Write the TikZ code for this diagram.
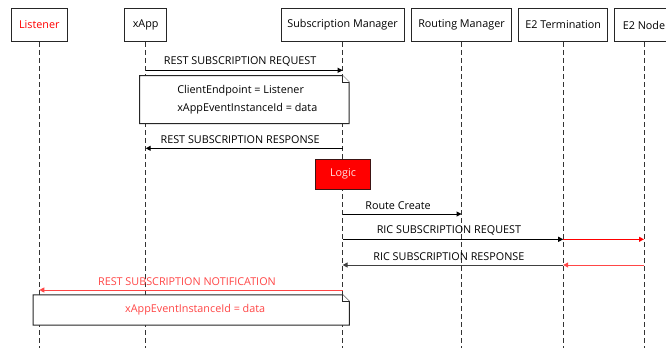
\documentclass[tikz,border=0pt]{standalone}
\usepackage{fontspec}
\setmainfont{Open Sans}
\usetikzlibrary{arrows.meta, positioning, calc}
\definecolor{alert}{RGB}{255, 0, 0}
\definecolor{alertline}{RGB}{255, 70, 70}
\definecolor{logicline}{RGB}{60, 20, 20}
\tikzset{
  actor/.style={draw=black!85, line width=1pt, fill=white, minimum height=33pt, inner sep=2pt, font=\fontsize{10.8}{13}\selectfont},
  lifeline/.style={draw=black!80, line width=1pt, dash pattern=on 5pt off 3pt},
  msg/.style={draw=black, line width=1pt, -{Triangle[length=5pt, width=5pt]}},
  redmsg/.style={msg, draw=alertline, -{Triangle[length=5pt, width=5pt, fill=alertline]}},
  msglabel/.style={font=\fontsize{10.8}{13}\selectfont, above=0.5pt, xshift=-4pt},
  note/.style={inner sep=0pt, font=\fontsize{10.8}{18}\selectfont, align=left},
  notebox/.style={draw=black!85, line width=1pt, fill=white}
}
\begin{document}
\begin{tikzpicture}[x=1pt, y=-1pt]
\useasboundingbox (0,0) rectangle (666,353);

% participants
\node[actor, minimum width=56pt, text=alert] (lst) at (39.3,25) {Listener};
\node[actor, minimum width=42pt] (xapp) at (145.7,25) {xApp};
\node[actor, minimum width=123pt] (subm) at (342.6,25) {Subscription Manager};
\node[actor, minimum width=100.7pt] (rtm) at (461.5,25) {Routing Manager};
\node[actor, minimum width=89.4pt] (e2t) at (563.2,25) {E2 Termination};
\node[actor, minimum width=60pt] (e2n) at (644,25) {E2 Node};

% lifelines
\foreach \p in {lst, xapp, subm, rtm, e2t, e2n} {
  \coordinate (\p-end) at (\p.center |- 0,348);
  \draw[lifeline] (\p.south) -- (\p-end);
}

% subscription request from the xApp
\coordinate (m1a) at (xapp.center |- 0,70.3);
\coordinate (m1b) at (subm.center |- 0,70.3);
\draw[msg] (m1a) -- node[msglabel] {REST SUBSCRIPTION REQUEST} (m1b);

\node[note, minimum width=209pt, minimum height=47.6pt] (n1) at (244.3,99.5) {};
\draw[notebox] (n1.north west) -- ([xshift=-6.5pt]n1.north east) -- ([yshift=-6.5pt]n1.north east)
  -- (n1.south east) -- (n1.south west) -- cycle;
\draw[notebox] ([xshift=-6.5pt]n1.north east) -- ([xshift=-6.5pt, yshift=-6.5pt]n1.north east)
  -- ([yshift=-6.5pt]n1.north east);
\node[note, xshift=3pt] (n1text) at (n1.center)
  {ClientEndpoint = Listener\\ xAppEventInstanceId = data};

\coordinate (m2a) at (subm.center |- 0,148.3);
\coordinate (m2b) at (xapp.center |- 0,148.3);
\draw[msg] (m2a) -- node[msglabel] {REST SUBSCRIPTION RESPONSE} (m2b);

% internal logic
\node[draw=logicline, line width=1pt, fill=alert, text=red!12, minimum width=54.6pt,
  minimum height=30pt, font=\fontsize{10.8}{13}\selectfont] (logic) at (343,174) {Logic};

% towards routing manager and E2
\coordinate (m3a) at (subm.center |- 0,214);
\coordinate (m3b) at (rtm.center |- 0,214);
\draw[msg] (m3a) -- node[msglabel] {Route Create} (m3b);

\coordinate (m4a) at (subm.center |- 0,239.3);
\coordinate (m4b) at (e2t.center |- 0,239.3);
\coordinate (m4c) at (e2n.center |- 0,239.3);
\draw[msg] (m4a) -- node[msglabel] {RIC SUBSCRIPTION REQUEST} (m4b);
\draw[redmsg, draw=alert, -{Triangle[length=5pt, width=5pt, fill=alert]}] (m4b) -- (m4c);

\coordinate (m5c) at (e2n.center |- 0,265);
\coordinate (m5b) at (e2t.center |- 0,265);
\coordinate (m5a) at (subm.center |- 0,265);
\draw[redmsg] (m5c) -- (m5b);
\draw[msg, draw=black!75] (m5b) -- node[msglabel] {RIC SUBSCRIPTION RESPONSE} (m5a);

% notification back to the listener
\coordinate (m6a) at (subm.center |- 0,290);
\coordinate (m6b) at (lst.center |- 0,290);
\draw[redmsg] (m6a) -- node[msglabel, text=alertline] {REST SUBSCRIPTION NOTIFICATION} (m6b);

\node[note, minimum width=315.7pt, minimum height=30pt] (n2) at (191.2,310) {};
\draw[notebox] (n2.north west) -- ([xshift=-6.5pt]n2.north east) -- ([yshift=-6.5pt]n2.north east)
  -- (n2.south east) -- (n2.south west) -- cycle;
\draw[notebox] ([xshift=-6.5pt]n2.north east) -- ([xshift=-6.5pt, yshift=-6.5pt]n2.north east)
  -- ([yshift=-6.5pt]n2.north east);
\node[note, text=alertline, xshift=4pt] (n2text) at (n2.center) {xAppEventInstanceId = data};
\end{tikzpicture}
\end{document}
